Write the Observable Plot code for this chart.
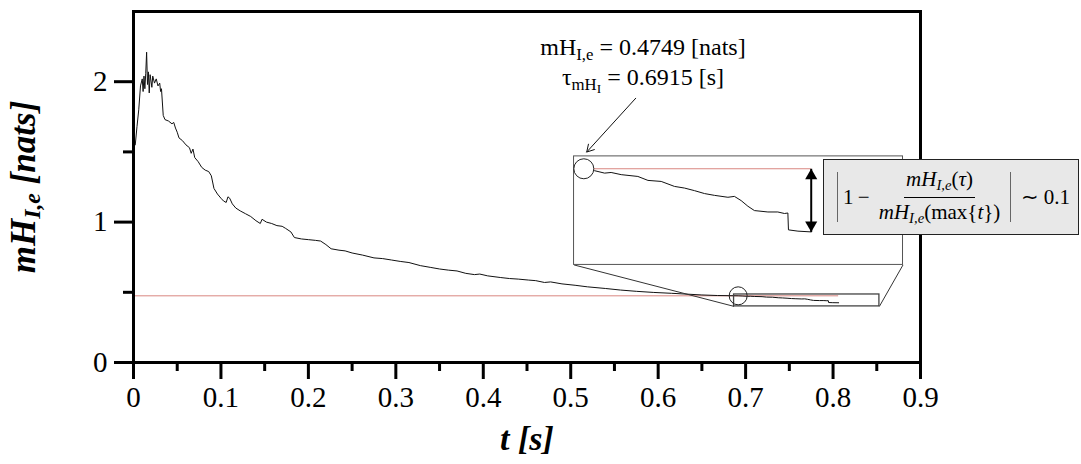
<!DOCTYPE html>
<html><head><meta charset="utf-8">
<script src="https://cdn.jsdelivr.net/npm/d3@7"></script>
<script src="https://cdn.jsdelivr.net/npm/@observablehq/plot@0.6"></script>
<style>
html,body{margin:0;padding:0;background:#fff;}
#wrap{position:relative;width:1081px;height:464px;font-family:"Liberation Serif",serif;color:#000;overflow:hidden;}
#wrap svg text{font-family:"Liberation Serif",serif;}
#wrap svg text.xtitle{letter-spacing:1.5px;}
#ytitle{position:absolute;left:25px;top:187px;transform:translate(-50%,-50%) rotate(-90deg);white-space:nowrap;font-weight:bold;font-style:italic;font-size:35px;}
#ytitle sub{font-size:0.68em;vertical-align:-0.25em;}
#note{position:absolute;left:518px;top:36px;width:250px;text-align:center;font-size:24px;line-height:22px;white-space:nowrap;}
#note sub{font-size:0.7em;vertical-align:-0.3em;}
#note sub sub{font-size:0.8em;vertical-align:-0.25em;}
#formula{position:absolute;left:823px;top:159px;width:254px;height:74px;background:#e8e8e8;border:1.5px solid #222;display:flex;align-items:center;justify-content:center;font-size:21px;white-space:nowrap;}
#formula .bar{display:inline-block;width:0;height:50px;border-left:1.5px solid #666;margin:0 5px;}
#formula .frac{display:inline-flex;flex-direction:column;align-items:center;margin:0 3px;font-size:21px;}
#formula .num{padding:0 2px 2px 2px;border-bottom:1.6px solid #000;}
#formula .den{padding:2px 2px 0 2px;}
#formula sub{font-size:0.7em;vertical-align:-0.3em;}
</style></head><body><div id="wrap"></div>
<script>
// ---- data ----
const tValues = [0.002,0.004,0.006,0.008,0.010,0.011,0.012,0.013,0.014,0.015,0.016,0.017,0.018,0.019,0.021,0.022,0.024,0.026,0.028,0.030,0.031,0.032,0.034,0.036,0.040,0.044,0.046,0.048,0.050,0.052,0.056,0.060,0.064,0.066,0.068,0.070,0.074,0.078,0.082,0.086,0.089,0.092,0.096,0.100,0.103,0.106,0.108,0.110,0.113,0.117,0.122,0.128,0.134,0.140,0.145,0.147,0.152,0.158,0.164,0.170,0.174,0.180,0.184,0.192,0.200,0.208,0.214,0.220,0.226,0.235,0.242,0.250,0.262,0.275,0.285,0.295,0.305,0.315,0.328,0.340,0.350,0.360,0.370,0.380,0.390,0.396,0.405,0.420,0.430,0.440,0.452,0.460,0.470,0.477,0.490,0.505,0.519,0.540,0.557,0.575,0.595,0.615,0.633,0.650,0.668,0.680,0.6915,0.6969,0.702,0.7053,0.7104,0.7188,0.7239,0.7306,0.7373,0.7424,0.7474,0.7525,0.7575,0.7643,0.7676,0.771,0.7744,0.7777,0.7845,0.7895,0.7929,0.7946,0.7949,0.7997,0.8064];
const vValues = [1.55,1.68,1.80,1.97,2.02,1.93,2.04,1.95,2.06,2.21,1.98,2.07,1.92,2.05,1.96,2.04,1.99,2.02,1.97,1.99,1.93,1.95,1.76,1.73,1.72,1.70,1.71,1.67,1.64,1.60,1.58,1.55,1.53,1.49,1.52,1.46,1.43,1.39,1.37,1.36,1.33,1.24,1.20,1.17,1.15,1.14,1.18,1.17,1.13,1.10,1.08,1.06,1.04,1.01,0.99,1.02,1.00,0.99,0.975,0.97,0.955,0.93,0.89,0.88,0.875,0.87,0.865,0.84,0.81,0.80,0.795,0.78,0.765,0.745,0.74,0.73,0.72,0.712,0.69,0.677,0.666,0.658,0.652,0.635,0.626,0.63,0.617,0.605,0.598,0.594,0.587,0.583,0.570,0.574,0.56,0.55,0.539,0.527,0.516,0.507,0.499,0.493,0.487,0.481,0.477,0.476,0.4749,0.4734,0.4715,0.4720,0.4703,0.4689,0.4658,0.4650,0.4611,0.4598,0.4578,0.4555,0.4541,0.4526,0.4533,0.4500,0.4456,0.4422,0.4411,0.4411,0.4399,0.4403,0.4271,0.4261,0.4255];
const xMajorTicks = [0,0.1,0.2,0.3,0.4,0.5,0.6,0.7,0.8,0.9];
const xMinorTicks = [0.05,0.15,0.25,0.35,0.45,0.55,0.65,0.75,0.85];
const yMajorTicks = [0,1,2];
const yMinorTicks = [0.5,1.5];
const mHIe = 0.4749, tau = 0.6915, tEnd = 0.8064, mHEnd = 0.4255;
const zoomX = [0.6868, 0.853];
const zoomY = [0.3996, 0.4845];
const insetBox = {x1: 0.5038, x2: 0.880, y1: 0.695, y2: 1.468};
const noteArrow = {x1: 0.5743, y1: 1.882, x2: 0.5183, y2: 1.499};

const data = tValues.map((t, i) => ({t, v: vValues[i]}));
const wrap = document.getElementById("wrap");
const FF = "Liberation Serif";
const fmt = d => String(d);

const main = Plot.plot({
  width: 1081, height: 464,
  marginLeft: 133, marginRight: 161, marginTop: 11, marginBottom: 102,
  style: "font-family: 'Liberation Serif', serif; font-size: 29px; background: transparent; overflow: visible;",
  x: {domain: [0, 0.9], label: null},
  y: {domain: [0, 2.5], label: null},
  marks: [
    Plot.ruleY([mHIe], {x1: 0, x2: tEnd, stroke: "#d98680", strokeWidth: 1}),
    Plot.line(data, {x: "t", y: "v", stroke: "#111", strokeWidth: 1}),
    Plot.rect([{x1: zoomX[0], x2: zoomX[1], y1: zoomY[0], y2: zoomY[1]}], {x1: "x1", x2: "x2", y1: "y1", y2: "y2", fill: "none", stroke: "#444", strokeWidth: 1.3}),
    Plot.link([
      {x1: insetBox.x1, y1: insetBox.y1, x2: zoomX[0], y2: zoomY[0]},
      {x1: insetBox.x2, y1: insetBox.y1, x2: zoomX[1], y2: zoomY[0]}
    ], {x1: "x1", y1: "y1", x2: "x2", y2: "y2", stroke: "#333", strokeWidth: 1}),
    Plot.rect([insetBox], {x1: "x1", x2: "x2", y1: "y1", y2: "y2", fill: "white", stroke: "#555", strokeWidth: 1}),
    Plot.dot([{t: tau, v: mHIe}], {x: "t", y: "v", r: 9, stroke: "#222", strokeWidth: 1, fill: "none"}),
    Plot.arrow([noteArrow], {x1: "x1", y1: "y1", x2: "x2", y2: "y2", stroke: "#111", strokeWidth: 1, headLength: 12}),
    Plot.frame({stroke: "#000", strokeWidth: 3}),
    Plot.axisX({ticks: xMajorTicks, tickSize: 17, tickPadding: 7, strokeWidth: 3, fontSize: 29, fontFamily: FF, tickFormat: fmt, label: null}),
    Plot.axisX({ticks: xMinorTicks, tickSize: 9, strokeWidth: 3, tickFormat: () => "", label: null}),
    Plot.axisY({ticks: yMajorTicks, tickSize: 19, tickPadding: 7, strokeWidth: 3, fontSize: 29, fontFamily: FF, tickFormat: fmt, label: null}),
    Plot.axisY({ticks: yMinorTicks, tickSize: 10, strokeWidth: 3, tickFormat: () => "", label: null}),
    Plot.text(["t [s]"], {frameAnchor: "bottom", dy: 87, fontSize: 34, fontFamily: FF, fontWeight: "bold", fontStyle: "italic", className: "xtitle"})
  ]
});
main.style.position = "absolute";
main.style.left = "0px"; main.style.top = "0px";
wrap.appendChild(main);

// inset (zoomed view) positioned from the main scales
const xs = main.scale("x"), ys = main.scale("y");
const iLeft = xs.apply(insetBox.x1), iRight = xs.apply(insetBox.x2);
const iTop = ys.apply(insetBox.y2), iBottom = ys.apply(insetBox.y1);
const inset = Plot.plot({
  width: iRight - iLeft, height: iBottom - iTop,
  margin: 0,
  style: {background: "transparent", overflow: "visible"},
  x: {domain: zoomX, axis: null},
  y: {domain: zoomY, axis: null},
  marks: [
    Plot.ruleY([mHIe], {x1: tau, x2: tEnd, stroke: "#d98680", strokeWidth: 1.2}),
    Plot.line(data.filter(d => d.t >= tau), {x: "t", y: "v", stroke: "#111", strokeWidth: 1}),
    Plot.dot([{t: tau, v: mHIe}], {x: "t", y: "v", r: 10, stroke: "#222", strokeWidth: 1, fill: "white"}),
    Plot.link([{x: tEnd, a: mHIe, b: mHEnd}], {x1: "x", x2: "x", y1: "a", y2: "b", stroke: "#000", strokeWidth: 2}),
    Plot.dot([{x: tEnd, y: mHIe}], {x: "x", y: "y", symbol: "triangle", r: 4.5, fill: "#000", dy: 7}),
    Plot.dot([{x: tEnd, y: mHEnd}], {x: "x", y: "y", symbol: "triangle", r: 4.5, fill: "#000", rotate: 180, dy: -7})
  ]
});
inset.style.position = "absolute";
inset.style.left = iLeft + "px"; inset.style.top = iTop + "px";
wrap.appendChild(inset);

const yt = document.createElement("div");
yt.id = "ytitle";
yt.innerHTML = "mH<sub>I,e</sub> [nats]";
wrap.appendChild(yt);

const note = document.createElement("div");
note.id = "note";
note.innerHTML = "mH<sub>I,e</sub> = 0.4749 [nats]<br>τ<sub>mH<sub>I</sub></sub> = 0.6915 [s]";
wrap.appendChild(note);

const f = document.createElement("div");
f.id = "formula";
f.innerHTML = '<span class="bar"></span><span>1&#8201;&#8722;&#8201;</span><span class="frac"><span class="num"><i>mH</i><sub><i>I,e</i></sub>(<i>τ</i>)</span><span class="den"><i>mH</i><sub><i>I,e</i></sub>(max{<i>t</i>})</span></span><span class="bar"></span><span>&#8201;∼ 0.1</span>';
wrap.appendChild(f);
</script></body></html>
